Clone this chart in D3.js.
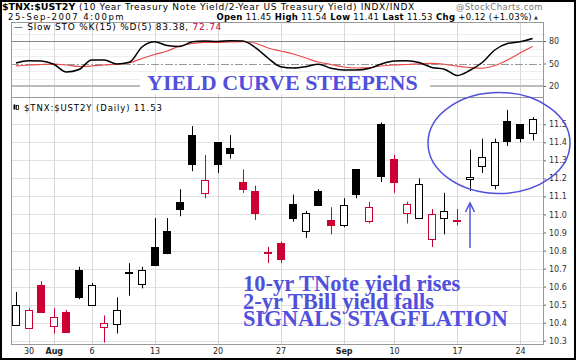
<!DOCTYPE html>
<html>
<head>
<meta charset="utf-8">
<script src="https://cdn.jsdelivr.net/npm/d3@7"></script>
<style>
  body { margin: 0; background: #fff; }
  svg { display: block; }
</style>
</head>
<body>
<svg class="chart" width="576" height="360"></svg>
<script>
// ---- data ----
const dates = ["Jul 27", "Jul 30", "Jul 31", "Aug 1", "Aug 2", "Aug 3",
  "Aug 6", "Aug 7", "Aug 8", "Aug 9", "Aug 10",
  "Aug 13", "Aug 14", "Aug 15", "Aug 16", "Aug 17",
  "Aug 20", "Aug 21", "Aug 22", "Aug 23", "Aug 24",
  "Aug 27", "Aug 28", "Aug 29", "Aug 30", "Aug 31",
  "Sep 4", "Sep 5", "Sep 6", "Sep 7",
  "Sep 10", "Sep 11", "Sep 12", "Sep 13", "Sep 14",
  "Sep 17", "Sep 18", "Sep 19", "Sep 20", "Sep 21",
  "Sep 24", "Sep 25"];
const opens  = [10.39, 10.37, 10.61, 10.38, 10.46, 10.69, 10.50, 10.38, 10.39, 10.68, 10.61,
  10.82, 10.91, 11.07, 11.44, 11.12, 11.40, 11.37, 11.18, 11.13, 10.79,
  10.84, 11.06, 10.91, 11.13, 10.97, 10.94, 11.25, 10.96, 11.50,
  11.31, 11.01, 10.98, 10.86, 10.98, 10.97, 11.20, 11.27, 11.16, 11.52, 11.50, 11.45];
const highs  = [10.57, 10.48, 10.63, 10.48, 10.47, 10.71, 10.62, 10.44, 10.54, 10.73, 10.71,
  10.98, 10.98, 11.14, 11.49, 11.33, 11.40, 11.44, 11.25, 11.16, 10.82,
  10.85, 11.11, 11.02, 11.14, 11.04, 11.09, 11.25, 11.07, 11.51,
  11.33, 11.07, 11.20, 11.03, 11.12, 11.03, 11.36, 11.42, 11.42, 11.58, 11.50, 11.54];
const lows   = [10.39, 10.37, 10.46, 10.34, 10.35, 10.53, 10.50, 10.29, 10.34, 10.55, 10.59,
  10.72, 10.78, 10.99, 11.24, 11.09, 11.23, 11.31, 11.12, 10.97, 10.73,
  10.73, 10.96, 10.87, 11.05, 10.89, 10.93, 11.09, 10.95, 11.18,
  11.12, 10.95, 10.98, 10.82, 10.89, 10.94, 11.13, 11.23, 11.14, 11.38, 11.40, 11.41];
const closes = [10.50, 10.47, 10.46, 10.43, 10.35, 10.54, 10.61, 10.40, 10.47, 10.68, 10.69,
  10.72, 10.79, 11.03, 11.28, 11.19, 11.28, 11.34, 11.14, 11.01, 10.79,
  10.75, 10.98, 11.01, 11.05, 10.94, 11.05, 11.11, 11.04, 11.21,
  11.18, 11.06, 11.17, 11.00, 11.02, 10.97, 11.21, 11.32, 11.40, 11.41, 11.42, 11.53];
const priorClose = 10.45;

// Slow stochastics %K(15) and %D(5)
const pctK = [50.7, 53.7, 53.3, 49.0, 38.7, 42.0, 54.7, 54.7, 49.3, 51.6, 72.0,
  79.0, 74.0, 72.7, 79.0, 80.0, 79.3, 80.4, 80.0, 71.3, 57.3,
  45.7, 44.0, 45.7, 49.0, 43.6, 41.3, 41.3, 43.3, 49.3,
  53.3, 53.7, 51.3, 44.7, 42.4, 34.0, 40.7, 51.3, 68.0, 76.7, 79.0, 83.4];
const pctD = [46.7, 48.0, 48.7, 49.3, 48.0, 46.0, 46.7, 48.0, 49.0, 51.0, 56.7,
  62.0, 66.7, 73.3, 76.7, 78.3, 78.3, 78.7, 79.0, 77.0, 70.7,
  66.7, 62.7, 57.3, 52.0, 48.7, 45.3, 44.0, 44.4, 46.7,
  48.0, 48.7, 49.6, 50.3, 49.0, 46.4, 44.7, 43.7, 47.3, 54.7, 64.0, 72.7];

const tickDates  = ["Jul 30", "Aug 1", "Aug 6", "Aug 13", "Aug 20", "Aug 27", "Sep 4", "Sep 10", "Sep 17", "Sep 24"];
const tickLabels = ["30", "Aug", "6", "13", "20", "27", "Sep", "10", "17", "24"];
const yTicks = [10.3, 10.4, 10.5, 10.6, 10.7, 10.8, 10.9, 11.0, 11.1, 11.2, 11.3, 11.4, 11.5];
const stoTicks = [20, 50, 80];
const stoGrid = [30, 40, 60, 70, 90];

// ---- layout ----
const FONT = "DejaVu Sans";
const SERIF = "Liberation Serif";
const RED = "#cc0033";
const BLUE = "#5050dc";
const LEFT = 11, RIGHT = 543;
const STO_TOP = 22, STO_BOTTOM = 97;
const MAIN_TOP = 97, MAIN_BOTTOM = 344;
const BODY_W = 8;

var chart = d3.select(".chart");

var x = d3.scalePoint().domain(dates).range([16, 532.6]);
var y = d3.scaleLinear().domain([10.3, 11.5]).range([340.7, 124.3]);
var ys = d3.scaleLinear().domain([20, 80]).range([86, 41]);

function px(v) { return Math.round(v) + 0.5; }

// ---- header ----
chart.append("text").attr("x", 2).attr("y", 10)
   .attr("font-family", FONT).attr("font-size", "9.5px").attr("font-weight", "bold")
   .text("$TNX:$UST2Y");
chart.append("text").attr("x", 79).attr("y", 10)
   .attr("font-family", FONT).attr("font-size", "9px").attr("letter-spacing", "0.7px")
   .text("(10 Year Treasury Note Yield/2-Year US Treasury Yield) INDX/INDX");

chart.append("text").attr("x", 543).attr("y", 10).attr("text-anchor", "end")
   .attr("font-family", FONT).attr("font-size", "8.5px").attr("fill", "#777")
   .attr("letter-spacing", "0.4px")
   .text("@StockCharts.com");

chart.append("text").attr("x", 8).attr("y", 19.5)
   .attr("font-family", FONT).attr("font-size", "8.5px").attr("letter-spacing", "1.5px")
   .text("25-Sep-2007 4:00pm");

var quote = [["Open", "11.45"], ["High", "11.54"], ["Low", "11.41"], ["Last", "11.53"], ["Chg", "+0.12 (+1.03%)"]];
var h2 = chart.append("text").attr("x", 532).attr("y", 19.5).attr("text-anchor", "end")
   .attr("font-family", FONT).attr("font-size", "8.5px").attr("letter-spacing", "0.3px");
quote.forEach(function(q, i) {
   h2.append("tspan").attr("font-weight", "bold").text((i ? "  " : "") + q[0]);
   h2.append("tspan").text(" " + q[1]);
});
chart.append("text").attr("x", 534).attr("y", 18.5).attr("font-family", FONT)
   .attr("font-size", "5px").attr("fill", "#333").text("\u25B2");

// ---- stochastics panel ----
var sto = chart.append("g");
sto.selectAll("line.sgrid").data(stoGrid).enter().append("line")
   .attr("x1", LEFT).attr("x2", RIGHT)
   .attr("y1", function(d) { return px(ys(d)); }).attr("y2", function(d) { return px(ys(d)); })
   .attr("stroke", "#eee");
sto.selectAll("line.vgrid").data(tickDates).enter().append("line")
   .attr("x1", function(d) { return px(x(d)); }).attr("x2", function(d) { return px(x(d)); })
   .attr("y1", STO_TOP).attr("y2", STO_BOTTOM)
   .attr("stroke", "#d8d8d8");
sto.append("line").attr("x1", LEFT).attr("x2", RIGHT)
   .attr("y1", px(ys(80))).attr("y2", px(ys(80))).attr("stroke", "#888");
sto.append("line").attr("x1", LEFT).attr("x2", RIGHT)
   .attr("y1", px(ys(50))).attr("y2", px(ys(50))).attr("stroke", "#999")
   .attr("stroke-dasharray", "8,2,2,2");
sto.append("line").attr("x1", LEFT).attr("x2", RIGHT)
   .attr("y1", Math.round(ys(20))).attr("y2", Math.round(ys(20))).attr("stroke", "#bbb")
   .attr("stroke-width", 2);

var stoLine = d3.line()
   .x(function(d, i) { return x(dates[i]); })
   .y(function(d) { return ys(d); })
   .curve(d3.curveMonotoneX);
sto.append("path").datum(pctD).attr("d", stoLine)
   .attr("fill", "none").attr("stroke", "#e84a4a").attr("stroke-width", 1.2);
sto.append("path").datum(pctK).attr("d", stoLine)
   .attr("fill", "none").attr("stroke", "#000").attr("stroke-width", 1.5);

var stoLegend = sto.append("text").attr("x", 14).attr("y", 29.5)
   .attr("font-family", FONT).attr("font-size", "9px").attr("letter-spacing", "0.75px");
stoLegend.append("tspan").text("\u2014 Slow STO %K(15) %D(5) 83.38, ");
stoLegend.append("tspan").attr("fill", RED).text("72.74");

var stoAxis = d3.axisRight(ys).tickValues(stoTicks).tickSize(3).tickPadding(3);
sto.append("g").attr("transform", "translate(" + RIGHT + ",0)").call(stoAxis)
   .call(function(g) {
      g.select(".domain").remove();
      g.selectAll("line").attr("stroke", "#666");
      g.selectAll("text").attr("font-family", FONT).attr("font-size", "8px").attr("fill", "#333");
   });

// ---- main panel ----
var main = chart.append("g");
main.selectAll("line.hgrid").data(yTicks).enter().append("line")
   .attr("x1", LEFT).attr("x2", RIGHT)
   .attr("y1", function(d) { return px(y(d)); }).attr("y2", function(d) { return px(y(d)); })
   .attr("stroke", "#e2e2e2");
main.selectAll("line.vgrid").data(tickDates).enter().append("line")
   .attr("x1", function(d) { return px(x(d)); }).attr("x2", function(d) { return px(x(d)); })
   .attr("y1", MAIN_TOP).attr("y2", MAIN_BOTTOM)
   .attr("stroke", "#d8d8d8");

// white box behind the title, it cuts the 20 line
chart.append("rect").attr("x", 140).attr("y", 72).attr("width", 290).attr("height", 22).attr("fill", "#fff");

var candles = dates.map(function(d, i) {
   return { date: d, o: opens[i], h: highs[i], l: lows[i], c: closes[i],
            prev: i ? closes[i - 1] : priorClose };
});
var candle = main.selectAll("g.candle").data(candles).enter().append("g");
candle.append("line")
   .attr("x1", function(d) { return px(x(d.date)); })
   .attr("x2", function(d) { return px(x(d.date)); })
   .attr("y1", function(d) { return y(d.h); })
   .attr("y2", function(d) { return y(d.l); })
   .attr("stroke", function(d) { return d.c >= d.prev ? "#000" : RED; });
candle.append("rect")
   .attr("x", function(d) { return Math.round(x(d.date)) - 3.5; })
   .attr("width", BODY_W - 1)
   .attr("y", function(d) { return Math.round(y(Math.max(d.o, d.c))) + 0.5; })
   .attr("height", function(d) { return Math.max(1, Math.round(y(Math.min(d.o, d.c)) - y(Math.max(d.o, d.c)))); })
   .attr("fill", function(d) { return d.c >= d.o ? "#fff" : (d.c >= d.prev ? "#000" : RED); })
   .attr("stroke", function(d) { return d.c >= d.prev ? "#000" : RED; })
   .attr("stroke-width", 1);

var yAxis = d3.axisRight(y).tickValues(yTicks).tickFormat(d3.format(".1f")).tickSize(3).tickPadding(3);
main.append("g").attr("transform", "translate(" + RIGHT + ",0)").call(yAxis)
   .call(function(g) {
      g.select(".domain").remove();
      g.selectAll("line").attr("stroke", "#666");
      g.selectAll("text").attr("font-family", FONT).attr("font-size", "8px").attr("fill", "#333");
   });

var xAxis = d3.axisBottom(x).tickValues(tickDates)
   .tickFormat(function(d, i) { return tickLabels[i]; }).tickSize(0).tickPadding(4);
main.append("g").attr("transform", "translate(0," + MAIN_BOTTOM + ")").call(xAxis)
   .call(function(g) {
      g.select(".domain").remove();
      g.selectAll("text").attr("font-family", FONT).attr("font-size", "8px").attr("fill", "#222")
       .attr("font-weight", function(d) { return d == "Aug 1" || d == "Sep 4" ? "bold" : "normal"; });
   });

// main legend
var mainLegend = main.append("g").attr("transform", "translate(13,111)");
mainLegend.append("rect").attr("x", 0.5).attr("y", -6.5).attr("width", 2).attr("height", 5).attr("fill", "#000");
mainLegend.append("rect").attr("x", 3.5).attr("y", -5.5).attr("width", 2).attr("height", 4).attr("fill", "none").attr("stroke", "#000").attr("stroke-width", 0.8);
mainLegend.append("text").attr("x", 11).attr("y", 0)
   .attr("font-family", FONT).attr("font-size", "8.5px").attr("letter-spacing", "0.9px")
   .text("$TNX:$UST2Y (Daily) 11.53");

// panel frames
chart.append("rect").attr("x", LEFT + 0.5).attr("y", STO_TOP + 0.5)
   .attr("width", RIGHT - LEFT).attr("height", STO_BOTTOM - STO_TOP)
   .attr("fill", "none").attr("stroke", "#999");
chart.append("rect").attr("x", LEFT + 0.5).attr("y", MAIN_TOP + 0.5)
   .attr("width", RIGHT - LEFT).attr("height", MAIN_BOTTOM - MAIN_TOP)
   .attr("fill", "none").attr("stroke", "#999");

// ---- annotations ----
chart.append("text").attr("x", 147).attr("y", 90)
   .attr("font-family", SERIF).attr("font-weight", "bold").attr("font-size", "22px")
   .attr("fill", BLUE).text("YIELD CURVE STEEPENS");

var note = chart.append("text").attr("font-family", SERIF).attr("font-weight", "bold")
   .attr("font-size", "22.5px").attr("fill", BLUE);
["10-yr TNote yield rises", "2-yr TBill yield falls", "SIGNALS STAGFLATION"].forEach(function(t, i) {
   note.append("tspan").attr("x", 243).attr("y", 291 + i * 17.6).text(t);
});

chart.append("ellipse").attr("cx", 499).attr("cy", 143).attr("rx", 71).attr("ry", 50.5)
   .attr("fill", "none").attr("stroke", BLUE).attr("stroke-width", 1.5);

var arrow = chart.append("g").attr("stroke", BLUE).attr("stroke-width", 1.5).attr("fill", "none");
arrow.append("line").attr("x1", 470).attr("x2", 470).attr("y1", 248).attr("y2", 203);
arrow.append("polyline").attr("points", "465.5,212 470,203 474.5,212");

// outer border
chart.append("rect").attr("x", 1).attr("y", 1).attr("width", 574).attr("height", 358)
   .attr("fill", "none").attr("stroke", "#000").attr("stroke-width", 2);
</script>
</body>
</html>
